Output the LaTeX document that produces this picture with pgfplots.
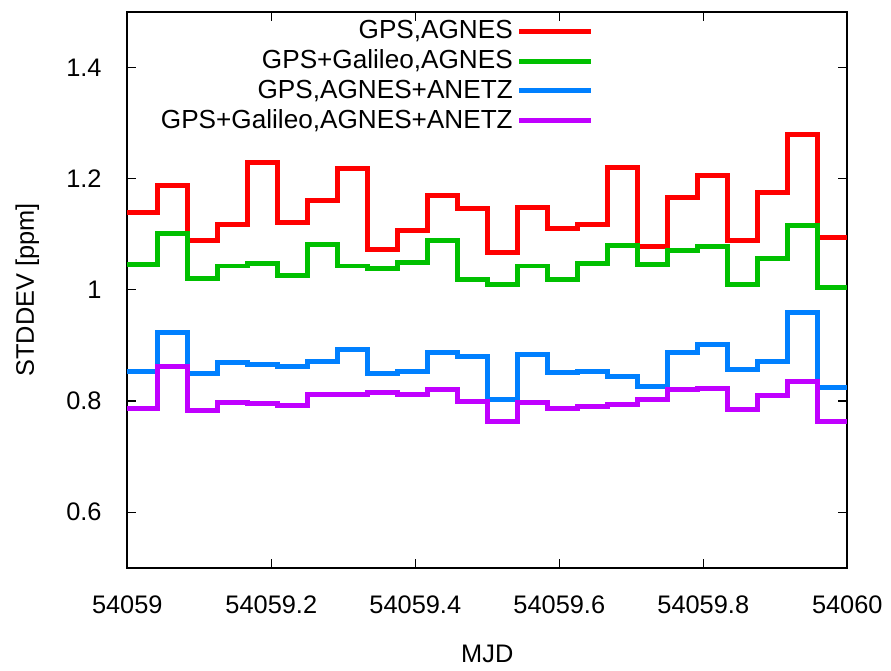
\documentclass[border=0pt]{standalone}
\usepackage{pgfplots}
\pgfplotsset{compat=1.18}
\usepackage{pgfplotstable}
\usepackage{fontspec}
\setmainfont{Liberation Sans}
\definecolor{gred}{RGB}{255,0,0}
\definecolor{ggreen}{RGB}{0,192,0}
\definecolor{gblue}{RGB}{0,128,255}
\definecolor{gpurple}{RGB}{192,0,255}
\pgfplotstableread{
i red green blue purple
0 1.140 1.045 0.854 0.786
1 1.188 1.101 0.924 0.862
2 1.088 1.020 0.850 0.783
3 1.117 1.043 0.869 0.798
4 1.230 1.047 0.866 0.796
5 1.121 1.026 0.863 0.792
6 1.161 1.081 0.872 0.812
7 1.218 1.043 0.893 0.812
8 1.073 1.039 0.850 0.816
9 1.106 1.050 0.854 0.811
10 1.170 1.088 0.887 0.820
11 1.147 1.018 0.880 0.799
12 1.067 1.010 0.803 0.763
13 1.149 1.043 0.884 0.798
14 1.111 1.018 0.851 0.786
15 1.118 1.048 0.854 0.790
16 1.220 1.080 0.844 0.793
17 1.078 1.045 0.827 0.802
18 1.167 1.070 0.887 0.820
19 1.205 1.078 0.902 0.822
20 1.088 1.010 0.856 0.784
21 1.175 1.057 0.872 0.810
22 1.279 1.116 0.960 0.836
23 1.095 1.004 0.824 0.763
24 1.095 1.004 0.824 0.763
}\datatable
\begin{document}
\fontsize{12.8}{15}\selectfont
\begin{tikzpicture}
\begin{axis}[
  scale only axis,
  width=362bp, height=279.5bp,
  xmin=0, xmax=24, ymin=0.5, ymax=1.5,
  xtick={0,4.8,9.6,14.4,19.2,24},
  xticklabels={54059,54059.2,54059.4,54059.6,54059.8,54060},
  ytick={0.6,0.8,1,1.2,1.4},
  yticklabels={0.6,0.8,1,1.2,1.4},
  tick align=inside,
  major tick length=4.5bp,
  axis line style={line width=0.8bp},
  every tick/.style={black, line width=0.6bp},
  tick label style={font=\fontsize{12.8}{15}\selectfont},
  xticklabel style={yshift=-9.5bp},
  yticklabel style={xshift=-8.5bp},
  label style={font=\fontsize{12.8}{15}\selectfont},
  xlabel={MJD},
  ylabel={STDDEV [ppm]},
  xlabel style={yshift=-7bp},
  ylabel style={yshift=5bp},
  clip=false,
  legend cell align=right,
  legend plot pos=right,
  legend style={draw=none, fill=none, at={(0.656,1.0)}, anchor=north east,
    font=\fontsize{13.2}{15}\selectfont, row sep=-0.3bp,
    /tikz/every even column/.append style={column sep=8bp}},
  legend image code/.code={\draw[#1] (0bp,0bp) -- (36bp,0bp);},
  every axis plot/.append style={line width=2.5bp, const plot, mark=none},
]
\addplot[gred] table[x=i,y=red] {\datatable};
\addlegendentry{GPS,AGNES}
\addplot[ggreen] table[x=i,y=green] {\datatable};
\addlegendentry{GPS+Galileo,AGNES}
\addplot[gblue] table[x=i,y=blue] {\datatable};
\addlegendentry{GPS,AGNES+ANETZ}
\addplot[gpurple] table[x=i,y=purple] {\datatable};
\addlegendentry{GPS+Galileo,AGNES+ANETZ}
\coordinate (sw) at (rel axis cs:0,0);
\coordinate (ne) at (rel axis cs:1,1);
\end{axis}
\path ([shift={(-64bp,-46.5bp)}]sw) rectangle ([shift={(19.5bp,6bp)}]ne);
\end{tikzpicture}
\end{document}
